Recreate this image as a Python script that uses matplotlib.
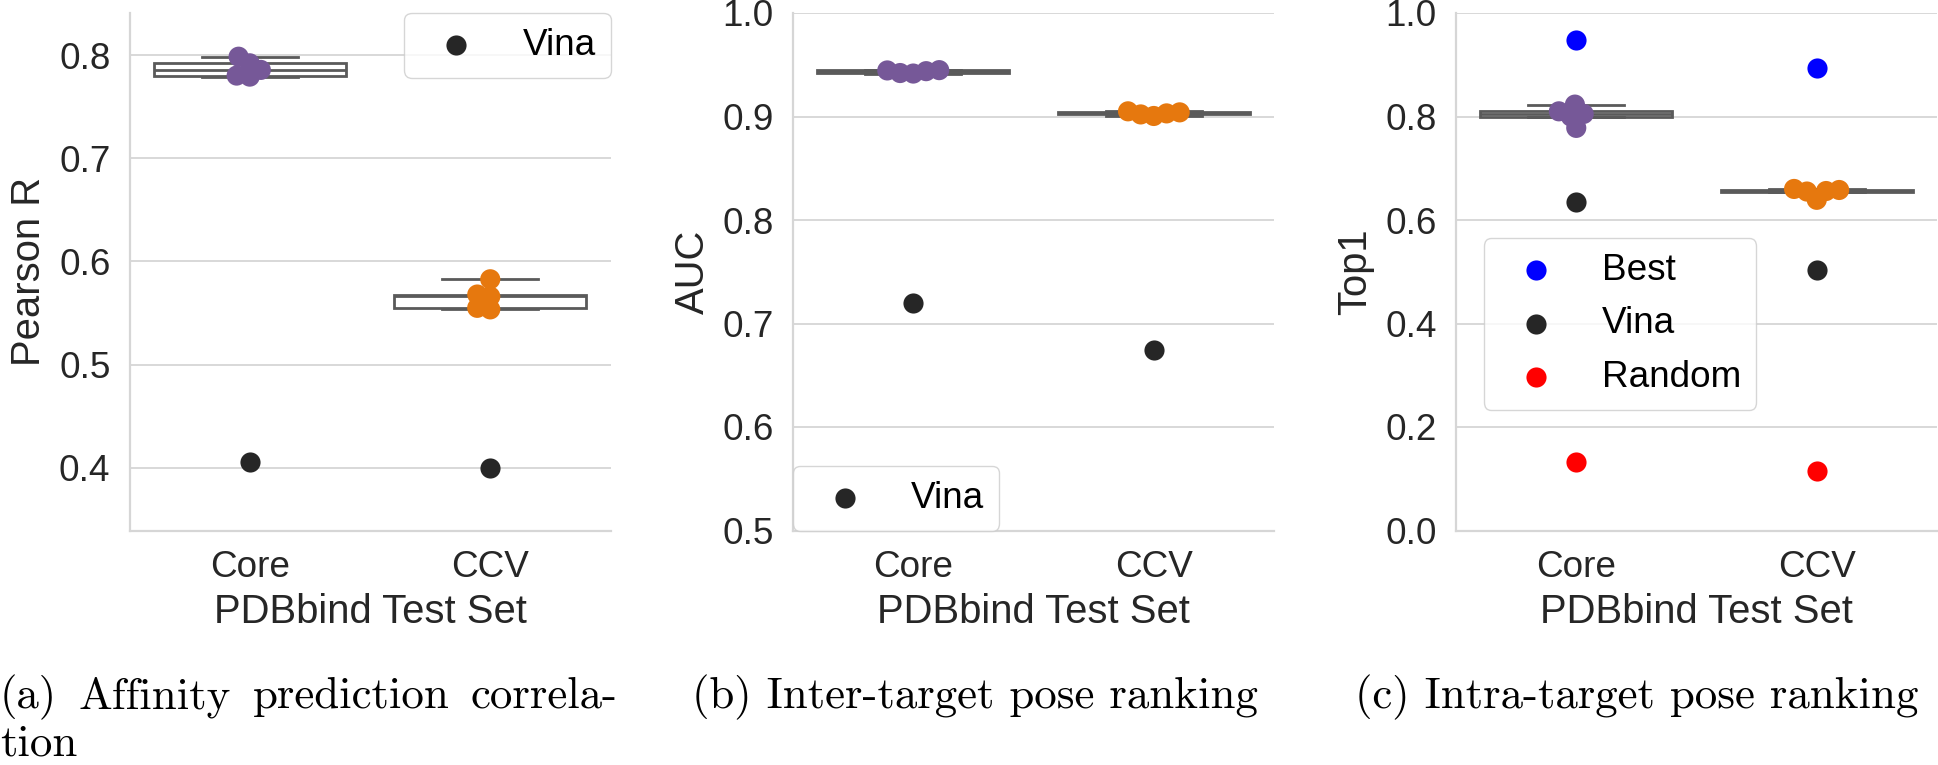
import matplotlib
matplotlib.use("Agg")
import matplotlib.pyplot as plt
import pandas as pd
import seaborn as sns

# ---------------- data ----------------
categories = ["Core", "CCV"]

pearson_core = [0.7793, 0.7803, 0.7858, 0.7922, 0.7986]
pearson_ccv = [0.5535, 0.5550, 0.5660, 0.5679, 0.5827]
pearson_vina = [0.405, 0.400]

auc_core = [0.9415, 0.9420, 0.9438, 0.9445, 0.9448]
auc_ccv = [0.9005, 0.9020, 0.9030, 0.9040, 0.9050]
auc_vina = [0.7195, 0.6747]

top1_core = [0.778, 0.800, 0.805, 0.810, 0.823]
top1_ccv = [0.639, 0.655, 0.656, 0.658, 0.660]
top1_best = [0.9475, 0.8946]
top1_vina = [0.6355, 0.5037]
top1_random = [0.1326, 0.1154]

ylabels = ["Pearson R", "AUC", "Top1"]
xlabel = "PDBbind Test Set"
yticks_list = [[0.4, 0.5, 0.6, 0.7, 0.8],
               [0.5, 0.6, 0.7, 0.8, 0.9, 1.0],
               [0.0, 0.2, 0.4, 0.6, 0.8, 1.0]]
ylims = [(0.339, 0.841), (0.5, 1.0), (0.0, 1.0)]
captions_a = ["(a)", "Affinity", "prediction", "correla-"]
caption_a2 = "tion"
caption_b = "(b) Inter-target pose ranking"
caption_c = "(c) Intra-target pose ranking"

# ---------------- style ----------------
W, H = 1938, 765
DPI = 100
TXT = "#262626"
GRIDC = "#d6d6d6"
BOXC = "#5a5a5a"
PURPLE = "#765898"
ORANGE = "#e6780e"
VINA = "#262626"
MS = 14.5           # drawn marker diameter in points
SWARM_MS = 9.0      # marker diameter used for the swarm layout
TICK_FS = 26.6
LABEL_FS = 28.8
LEG_FS = 26.6
CAP_FS = 32.4

plt.rcParams["font.family"] = ["Liberation Sans", "DejaVu Sans"]

fig = plt.figure(figsize=(W / DPI, H / DPI), dpi=DPI)

top_px, bot_px = 13.0, 530.5
ax_lefts = [129.5, 793.0, 1456.0]
ax_width = 481.0
swarm_colls = []


def make_ax(i):
    l = ax_lefts[i] / W
    b = 1 - bot_px / H
    h = (bot_px - top_px) / H
    ax = fig.add_axes([l, b, ax_width / W, h])
    ax.set_xlim(-0.5, 1.5)
    ax.set_ylim(*ylims[i])
    return ax


def style_ax(ax, i):
    ax.set_xlim(-0.5, 1.5)
    ax.set_ylim(*ylims[i])
    ax.set_yticks(yticks_list[i])
    ax.set_yticklabels([f"{v:.1f}" for v in yticks_list[i]])
    ax.set_xticks([0, 1])
    ax.set_xticklabels(categories)
    ax.set_axisbelow(True)
    ax.yaxis.grid(True, color=GRIDC, lw=1.3)
    ax.xaxis.grid(False)
    for s in ["top", "right"]:
        ax.spines[s].set_visible(False)
    for s in ["left", "bottom"]:
        ax.spines[s].set_color(GRIDC)
        ax.spines[s].set_linewidth(1.6)
    ax.tick_params(axis="both", length=0, pad=13.7, labelsize=TICK_FS,
                   colors=TXT)
    ax.set_xlabel(xlabel, fontsize=LABEL_FS, color=TXT, labelpad=6)
    ax.set_ylabel(ylabels[i], fontsize=LABEL_FS, color=TXT, labelpad=8)


def draw_box_swarm(ax, core, ccv):
    ax.boxplot([core, ccv], positions=[0, 1], widths=0.8, capwidths=0.4,
               patch_artist=True, showfliers=False, whis=1.5,
               manage_ticks=False, zorder=1.5,
               boxprops=dict(facecolor="white", edgecolor=BOXC, linewidth=2.0),
               whiskerprops=dict(color=BOXC, linewidth=2.0),
               capprops=dict(color=BOXC, linewidth=2.0),
               medianprops=dict(color=BOXC, linewidth=2.0))
    df = pd.DataFrame({"set": ["Core"] * len(core) + ["CCV"] * len(ccv),
                       "val": list(core) + list(ccv)})
    n0 = len(ax.collections)
    sns.swarmplot(data=df, x="set", y="val", order=categories, hue="set",
                  hue_order=categories, palette=[PURPLE, ORANGE],
                  size=SWARM_MS, linewidth=0, ax=ax, legend=False, zorder=3)
    swarm_colls.extend(ax.collections[n0:])


def legend_kw():
    return dict(fontsize=LEG_FS, frameon=True, fancybox=True,
                edgecolor="#cccccc", framealpha=0.8, borderaxespad=0,
                scatterpoints=1)


# ---- panel a ----
ax1 = make_ax(0)
draw_box_swarm(ax1, pearson_core, pearson_ccv)
ax1.scatter([0, 1], pearson_vina, s=MS ** 2, color=VINA, linewidths=0,
            zorder=3, label="Vina")
style_ax(ax1, 0)
ax1.legend(loc="upper right", **legend_kw())

# ---- panel b ----
ax2 = make_ax(1)
draw_box_swarm(ax2, auc_core, auc_ccv)
ax2.scatter([0, 1], auc_vina, s=MS ** 2, color=VINA, linewidths=0,
            zorder=3, label="Vina")
style_ax(ax2, 1)
ax2.legend(loc="lower left", **legend_kw())

# ---- panel c ----
ax3 = make_ax(2)
draw_box_swarm(ax3, top1_core, top1_ccv)
ax3.scatter([0, 1], top1_best, s=MS ** 2, color="#0000ff", linewidths=0,
            zorder=3, label="Best")
ax3.scatter([0, 1], top1_vina, s=MS ** 2, color=VINA, linewidths=0,
            zorder=3, label="Vina")
ax3.scatter([0, 1], top1_random, s=MS ** 2, color="#ff0000", linewidths=0,
            zorder=3, label="Random")
style_ax(ax3, 2)
ax3.legend(loc="upper left", bbox_to_anchor=(0.058, 0.565), **legend_kw())

# let seaborn lay out the swarms, then freeze them and enlarge the dots
fig.canvas.draw()
for c in swarm_colls:
    if "draw" in c.__dict__:
        del c.draw
    c.set_sizes([MS ** 2])

# ---------------- captions ----------------
cap_kw = dict(fontfamily="cmr10", fontsize=CAP_FS, color="black",
              va="baseline", ha="left")
base1 = 1 - 708 / H
base2 = 1 - 756 / H

r = fig.canvas.get_renderer()
words = [fig.text(0, base1, w, **cap_kw) for w in captions_a]
widths = [t.get_window_extent(r).width for t in words]
right_end = 618.0
gap = (right_end - sum(widths)) / (len(words) - 1)
x = 0.0
for t, wd in zip(words, widths):
    t.set_x(x / W)
    x += wd + gap
fig.text(0, base2, caption_a2, **cap_kw)
fig.text(692 / W, base1, caption_b, **cap_kw)
fig.text(1355 / W, base1, caption_c, **cap_kw)

fig.savefig("out.png", dpi=DPI)
